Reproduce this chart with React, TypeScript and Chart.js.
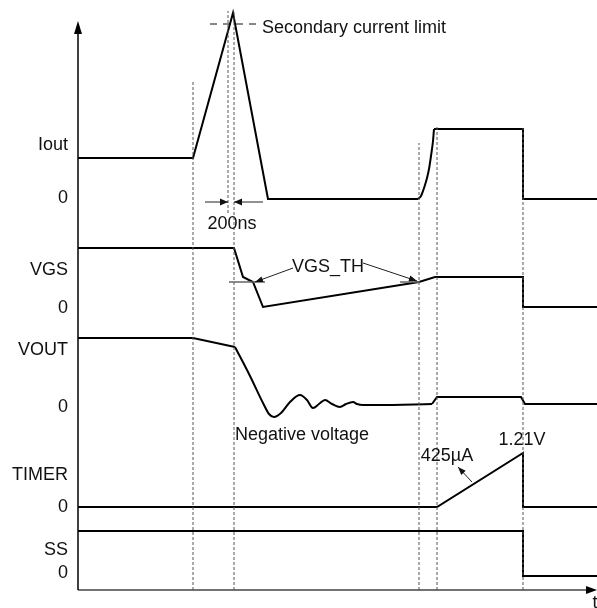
import React, { useEffect, useRef } from "react";
import { Chart, registerables } from "chart.js";
Chart.register(...registerables);

// Time (arbitrary units from the origin) and amplitude of each signal above its own 0 level
const ioutT1 = [0, 115, 155, 190, 340];
const ioutV1 = [41, 41, 186, 0, 0];
const ioutRiseT = [340, 343, 345, 347, 349, 351, 353, 355, 356];
const ioutRiseV = [0, 3, 8, 14, 21, 30, 43, 58, 70];
const ioutT2 = [356, 445, 445, 519];
const ioutV2 = [70, 70, 0, 0];

const vgsT = [0, 156, 165, 175, 185, 341, 357, 445, 445, 519];
const vgsV = [59, 59, 30, 25, 0, 25, 30, 30, 0, 0];

const voutT1 = [0, 115, 157];
const voutV1 = [66, 66, 57];
const voutRingT = [157, 172, 185, 191, 196, 203, 212, 222, 229, 235, 241, 247, 254, 262, 268, 275, 279, 285, 300, 354];
const voutRingV = [57, 28, 1, -10, -13, -9, 2, 9, 4, -4, 0, 4, 0, -3, 0, 2, 0, -1, -1, 0];
const voutT2 = [354, 359, 443, 447, 519];
const voutV2 = [0, 7, 7, 0, 0];

const timerT = [0, 359, 445, 445, 519];
const timerV = [0, 0, 54, 0, 0];

const ssT = [0, 445, 445, 519];
const ssV = [45, 45, 0, 0];

// event markers (time) and their vertical extent
const markerT = [115, 150, 156, 341, 359, 445];
const markerTop = [509, 579, 579, 447, 463, 462];
const markerBottom = [0, 377, 0, 0, 0, 0];

const secondaryLimitT = [132, 179];
const secondaryLimitLevel = 175; // Iout level of the secondary current limit
const vgsThLevel = 25;

const laneNames = ["Iout", "VGS", "VOUT", "TIMER", "SS"];
const laneZero = [391, 283, 186, 83, 14];
const laneLabelLevel = [54, 37, 54, 32, 26];
const laneZeroLabel = [1, -1, -3, 0, 3];

const pts = (t: number[], v: number[], off: number) => t.map((x, i) => ({ x, y: v[i] + off }));

const black = "#000000";
const FONT = "18px 'Liberation Sans', Arial, sans-serif";

function arrowHead(ctx: CanvasRenderingContext2D, x1: number, y1: number, x2: number, y2: number, len: number, half: number) {
  const a = Math.atan2(y2 - y1, x2 - x1);
  ctx.beginPath();
  ctx.moveTo(x2, y2);
  ctx.lineTo(x2 - len * Math.cos(a) + half * Math.sin(a), y2 - len * Math.sin(a) - half * Math.cos(a));
  ctx.lineTo(x2 - len * Math.cos(a) - half * Math.sin(a), y2 - len * Math.sin(a) + half * Math.cos(a));
  ctx.closePath();
  ctx.fill();
}

const annotate = {
  id: "annotate",
  afterDatasetsDraw(chart: any) {
    const { ctx, scales } = chart;
    const X = (t: number) => scales.x.getPixelForValue(t);
    const Y = (v: number) => scales.y.getPixelForValue(v);
    ctx.save();
    ctx.fillStyle = "#111";
    ctx.strokeStyle = "#111";
    ctx.font = FONT;
    ctx.textBaseline = "middle";

    // lane labels
    ctx.textAlign = "right";
    laneNames.forEach((n, i) => {
      ctx.fillText(n, X(-10), Y(laneZero[i] + laneLabelLevel[i]));
      ctx.fillText("0", X(-10), Y(laneZero[i] + laneZeroLabel[i]));
    });

    // axis arrow heads
    ctx.fillStyle = black;
    arrowHead(ctx, X(0), Y(0), X(0), Y(569), 13, 4);
    arrowHead(ctx, X(0), Y(0), X(519), Y(0), 11, 4);

    ctx.fillStyle = "#111";
    ctx.textAlign = "center";
    ctx.fillText("t", X(517), Y(-13));

    // secondary current limit
    ctx.textAlign = "left";
    ctx.fillText("Secondary current limit", X(184), Y(laneZero[0] + secondaryLimitLevel - 4));

    // 200ns
    ctx.lineWidth = 1;
    ctx.strokeStyle = "#222";
    ctx.fillStyle = "#111";
    const y200 = Y(388);
    ctx.beginPath();
    ctx.moveTo(X(127), y200);
    ctx.lineTo(X(150), y200);
    ctx.moveTo(X(185), y200);
    ctx.lineTo(X(156), y200);
    ctx.stroke();
    arrowHead(ctx, X(127), y200, X(150), y200, 8, 3.5);
    arrowHead(ctx, X(185), y200, X(156), y200, 8, 3.5);
    ctx.textAlign = "center";
    ctx.fillText("200ns", X(154), Y(366));

    // VGS_TH markers
    ctx.strokeStyle = "#666";
    ctx.lineWidth = 1.5;
    const yth = Y(laneZero[1] + vgsThLevel);
    ctx.beginPath();
    ctx.moveTo(X(151), yth);
    ctx.lineTo(X(187), yth);
    ctx.moveTo(X(322), yth);
    ctx.lineTo(X(342), yth);
    ctx.stroke();
    ctx.strokeStyle = "#222";
    ctx.lineWidth = 1;
    ctx.beginPath();
    ctx.moveTo(X(215), Y(322));
    ctx.lineTo(X(177), Y(308));
    ctx.moveTo(X(285), Y(327));
    ctx.lineTo(X(339), Y(309));
    ctx.stroke();
    arrowHead(ctx, X(215), Y(322), X(177), Y(308), 8, 3);
    arrowHead(ctx, X(285), Y(327), X(339), Y(309), 8, 3);
    ctx.fillText("VGS_TH", X(250), Y(323));

    ctx.textAlign = "left";
    ctx.fillText("Negative voltage", X(157), Y(155));

    ctx.textAlign = "center";
    ctx.fillText("425\u00b5A", X(369), Y(134));
    ctx.beginPath();
    ctx.moveTo(X(394), Y(108));
    ctx.lineTo(X(380), Y(123));
    ctx.stroke();
    arrowHead(ctx, X(394), Y(108), X(380), Y(123), 8, 3);
    ctx.fillText("1.21V", X(444), Y(150));
    ctx.restore();
  },
};

export default function App() {
  const ref = useRef<HTMLCanvasElement>(null);
  useEffect(() => {
    if (!ref.current) return;
    const signal = (data: any[], extra: any = {}) => ({
      data,
      borderColor: black,
      borderWidth: 2,
      pointRadius: 0,
      fill: false,
      tension: 0,
      ...extra,
    });
    const datasets: any[] = [];
    markerT.forEach((t, i) => {
      datasets.push({
        data: [{ x: t, y: markerBottom[i] }, { x: t, y: markerTop[i] }],
        borderColor: "#555",
        borderWidth: 1,
        borderDash: [3, 2],
        pointRadius: 0,
      });
    });
    datasets.push({
      data: [{ x: secondaryLimitT[0], y: laneZero[0] + secondaryLimitLevel }, { x: secondaryLimitT[1], y: laneZero[0] + secondaryLimitLevel }],
      borderColor: "#111",
      borderWidth: 1,
      borderDash: [7, 6],
      pointRadius: 0,
    });
    // axes
    datasets.push(signal([{ x: 0, y: 0 }, { x: 0, y: 558 }], { borderWidth: 1.5 }));
    datasets.push(signal([{ x: 0, y: 0 }, { x: 510, y: 0 }], { borderWidth: 1.5, borderColor: "#444" }));
    datasets.push(signal(pts(ioutT1, ioutV1, laneZero[0])));
    datasets.push(signal(pts(ioutRiseT, ioutRiseV, laneZero[0]), { cubicInterpolationMode: "monotone" }));
    datasets.push(signal(pts(ioutT2, ioutV2, laneZero[0])));
    datasets.push(signal(pts(vgsT, vgsV, laneZero[1])));
    datasets.push(signal(pts(voutT1, voutV1, laneZero[2])));
    datasets.push(signal(pts(voutRingT, voutRingV, laneZero[2]), { cubicInterpolationMode: "monotone" }));
    datasets.push(signal(pts(voutT2, voutV2, laneZero[2])));
    datasets.push(signal(pts(timerT, timerV, laneZero[3])));
    datasets.push(signal(pts(ssT, ssV, laneZero[4])));

    const chart = new Chart(ref.current, {
      type: "line",
      data: { datasets },
      options: {
        responsive: false,
        animation: false,
        devicePixelRatio: 1,
        layout: { padding: 0 },
        plugins: { legend: { display: false }, tooltip: { enabled: false } },
        scales: {
          x: { type: "linear", min: -78, max: 519, display: false },
          y: { type: "linear", min: -18, max: 590, display: false },
        },
        elements: { line: { borderCapStyle: "butt", borderJoinStyle: "miter" } },
      },
      plugins: [annotate],
    });
    return () => chart.destroy();
  }, []);
  return (
    <div style={{ position: "fixed", left: 0, top: 0, width: 597, height: 608, background: "#fff" }}>
      <canvas ref={ref} width={597} height={608} />
    </div>
  );
}
